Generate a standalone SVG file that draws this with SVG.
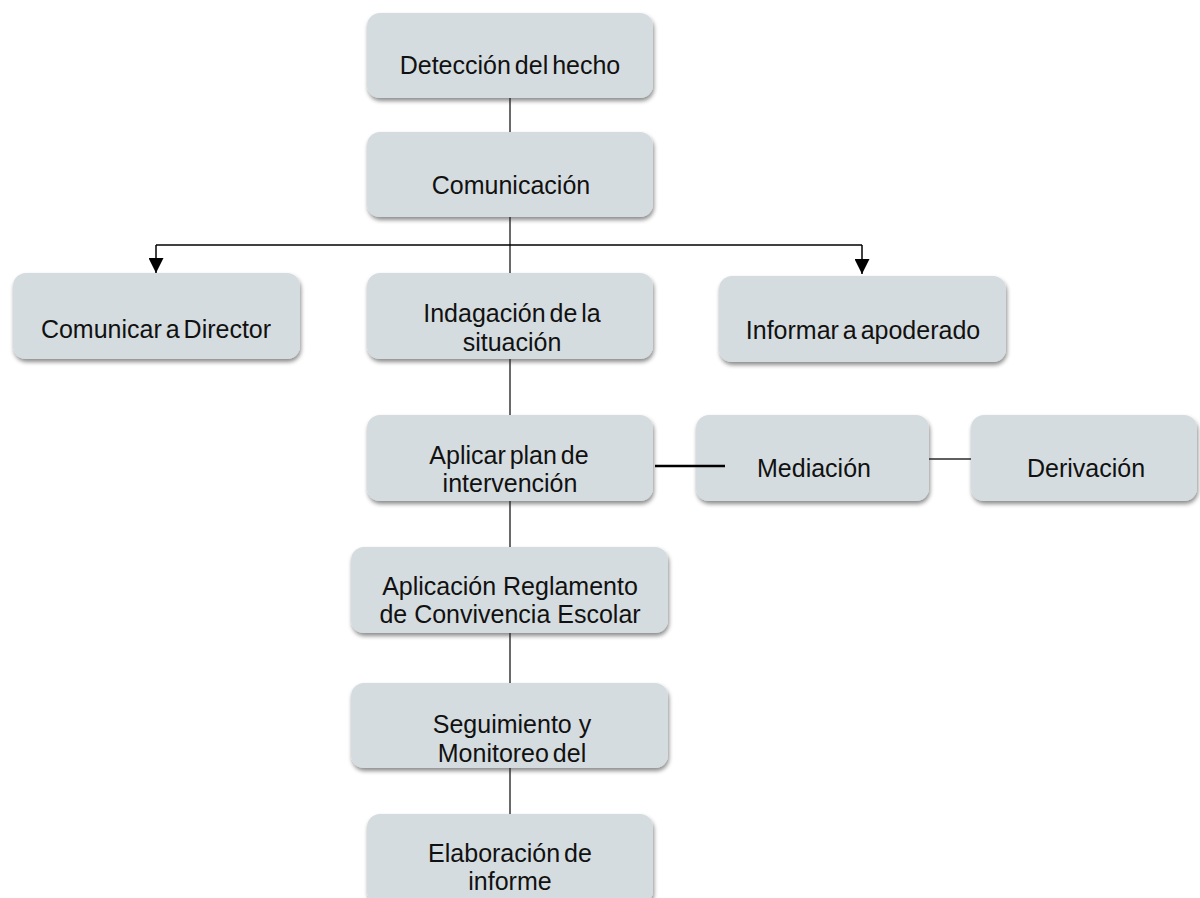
<svg xmlns="http://www.w3.org/2000/svg" width="1200" height="898" viewBox="0 0 1200 898">
  <style>
    .box { fill: #d5dcdf; filter: url(#shadow); }
    .lbl { font-family: "Liberation Sans", Arial, sans-serif; font-size: 25px; fill: #111; text-anchor: middle; }
    .tight { word-spacing: -3px; }
    .link { stroke: #2a2a2a; stroke-width: 1.4; fill: none; }
    .arrow { stroke: #000; stroke-width: 1.5; fill: none; }
    .bold { stroke: #000; stroke-width: 2.6; fill: none; }
  </style>
  <defs>
    <filter id="shadow" x="-10%" y="-20%" width="120%" height="150%">
      <feDropShadow dx="1" dy="3" stdDeviation="2.2" flood-color="#000" flood-opacity="0.45"/>
    </filter>
    <marker id="down" markerWidth="15" markerHeight="15" refX="15" refY="7.5" orient="auto" markerUnits="userSpaceOnUse" viewBox="0 0 15 15">
      <path d="M0,0 L15,7.5 L0,15 Z" fill="#000"/>
    </marker>
  </defs>

  <rect width="1200" height="898" fill="#fff"/>

  <g id="n-deteccion">
    <rect class="box" x="367" y="13" width="286" height="85" rx="13"/>
    <text class="lbl tight" x="510" y="74">Detección del hecho</text>
  </g>
  <g id="n-comunicacion">
    <rect class="box" x="367" y="132" width="286" height="85" rx="13"/>
    <text class="lbl" x="511" y="194">Comunicación</text>
  </g>
  <g id="n-director">
    <rect class="box" x="13" y="273" width="287" height="86" rx="13"/>
    <text class="lbl tight" x="156" y="338">Comunicar a Director</text>
  </g>
  <g id="n-indagacion">
    <rect class="box" x="367" y="273" width="286" height="86" rx="13"/>
    <text class="lbl tight" x="512" y="322">Indagación de la</text>
    <text class="lbl" x="512" y="351">situación</text>
  </g>
  <g id="n-apoderado">
    <rect class="box" x="719" y="276" width="287" height="86" rx="13"/>
    <text class="lbl tight" x="863" y="339">Informar a apoderado</text>
  </g>
  <g id="n-plan">
    <rect class="box" x="367" y="415" width="286" height="86" rx="13"/>
    <text class="lbl tight" x="509" y="464">Aplicar plan de</text>
    <text class="lbl" x="510" y="492">intervención</text>
  </g>
  <g id="n-mediacion">
    <rect class="box" x="696" y="415" width="233" height="86" rx="13"/>
    <text class="lbl" x="814" y="477">Mediación</text>
  </g>
  <g id="n-derivacion">
    <rect class="box" x="971" y="415" width="226" height="86" rx="13"/>
    <text class="lbl" x="1086" y="477">Derivación</text>
  </g>
  <g id="n-reglamento">
    <rect class="box" x="351" y="547" width="317" height="86" rx="13"/>
    <text class="lbl" x="510" y="595">Aplicación Reglamento</text>
    <text class="lbl" x="510" y="623">de Convivencia Escolar</text>
  </g>
  <g id="n-seguimiento">
    <rect class="box" x="351" y="683" width="317" height="85" rx="13"/>
    <text class="lbl" x="512" y="733">Seguimiento y</text>
    <text class="lbl tight" x="512" y="762">Monitoreo del</text>
  </g>
  <g id="n-informe">
    <rect class="box" x="367" y="814" width="286" height="90" rx="13"/>
    <text class="lbl tight" x="510" y="862">Elaboración de</text>
    <text class="lbl" x="510" y="890">informe</text>
  </g>

  <g id="connectors">
    <line class="link" x1="510" y1="98" x2="510" y2="132"/>
    <line class="link" x1="510" y1="217" x2="510" y2="273"/>
    <line class="arrow" x1="156" y1="245" x2="862" y2="245"/>
    <line class="arrow" x1="156" y1="245" x2="156" y2="273" marker-end="url(#down)"/>
    <line class="arrow" x1="862" y1="245" x2="862" y2="274" marker-end="url(#down)"/>
    <line class="link" x1="510" y1="359" x2="510" y2="415"/>
    <line class="bold" x1="655" y1="466" x2="725" y2="466"/>
    <line class="link" x1="929" y1="459" x2="971" y2="459"/>
    <line class="link" x1="510" y1="501" x2="510" y2="547"/>
    <line class="link" x1="510" y1="633" x2="510" y2="683"/>
    <line class="link" x1="510" y1="768" x2="510" y2="814"/>
  </g>
</svg>
